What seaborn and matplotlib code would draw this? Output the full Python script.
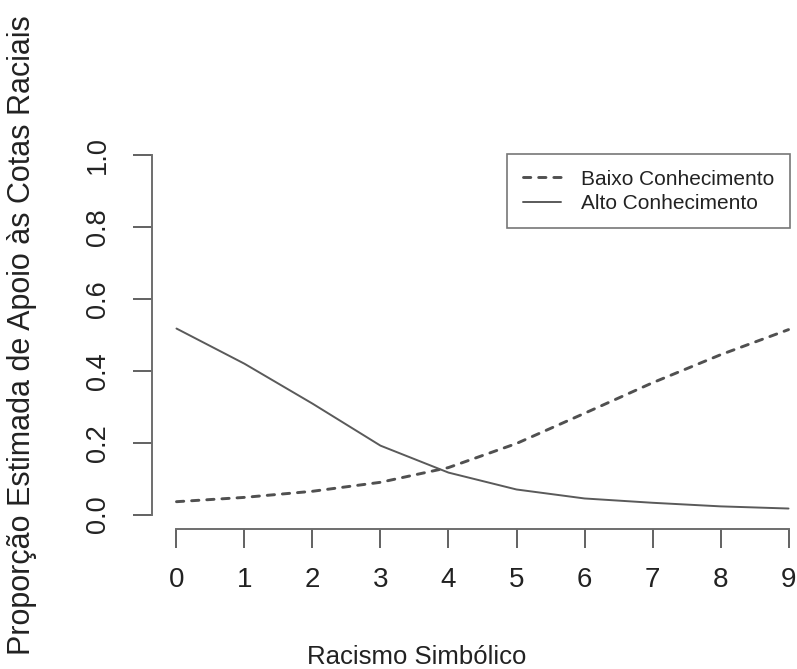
import numpy as np
import pandas as pd
import seaborn as sns
import matplotlib.pyplot as plt

# predicted probabilities
racismo = [0, 1, 2, 3, 4, 5, 6, 7, 8, 9]
baixo_conhecimento = [0.036, 0.048, 0.065, 0.090, 0.131, 0.198, 0.282, 0.367, 0.445, 0.515]
alto_conhecimento = [0.518, 0.420, 0.309, 0.192, 0.117, 0.070, 0.045, 0.033, 0.023, 0.017]
y_ticks = [0.0, 0.2, 0.4, 0.6, 0.8, 1.0]

df = pd.DataFrame({
    'racismo': racismo * 2,
    'prob': baixo_conhecimento + alto_conhecimento,
    'grupo': ['Baixo Conhecimento'] * 10 + ['Alto Conhecimento'] * 10,
})

sns.set_style('white')
plt.rcParams['font.family'] = ['Liberation Sans', 'DejaVu Sans']

fig = plt.figure(figsize=(7.97, 6.69), dpi=100)
ax = fig.add_axes([152 / 797, 1 - 529 / 669, 661 / 797, 388 / 669])

sns.lineplot(data=df[df.grupo == 'Baixo Conhecimento'], x='racismo', y='prob',
             color='#505050', linewidth=2.1, ax=ax, label='Baixo Conhecimento')
sns.lineplot(data=df[df.grupo == 'Alto Conhecimento'], x='racismo', y='prob',
             color='#5a5a5a', linewidth=1.4, ax=ax, label='Alto Conhecimento')
ax.lines[0].set_dashes((2.5, 2.7))
ax.lines[0].set_dash_capstyle('round')

ax.set_xlim(-0.36, 9.36)
ax.set_ylim(-0.04, 1.04)

# R-style axes: only the ranges, ticks outside
for s in ['top', 'right']:
    ax.spines[s].set_visible(False)
ax.spines['left'].set_bounds(0, 1)
ax.spines['bottom'].set_bounds(0, 9)
for s in ['left', 'bottom']:
    ax.spines[s].set_color('#6e6e6e')
    ax.spines[s].set_linewidth(1.4)

ax.set_xticks(racismo)
ax.set_xticklabels([str(v) for v in racismo], fontsize=20)
ax.set_yticks(y_ticks)
ax.set_yticklabels([f'{v:.1f}' for v in y_ticks], fontsize=19.5,
                   rotation=90, va='center')
ax.tick_params(axis='both', direction='out', length=13.5, width=1.3,
               color='#555555', labelcolor='#222222', left=True, bottom=True)
ax.tick_params(axis='x', pad=14)
ax.tick_params(axis='y', pad=16)

ax.set_xlabel('')
ax.set_ylabel('')
fig.text(417 / 797, 1 - 664 / 669, 'Racismo Simbólico', fontsize=18.5,
         ha='center', va='baseline', color='#222222')
fig.text(22 / 797, 1 - 335 / 669, 'Proporção Estimada de Apoio às Cotas Raciais',
         fontsize=22, rotation=90, ha='center', va='center', color='#222222')

leg = ax.legend(loc='upper right', bbox_to_anchor=(790 / 797, 1 - 154 / 669),
                bbox_transform=fig.transFigure, fontsize=15, frameon=True,
                fancybox=False, handlelength=1.85, handletextpad=0.95,
                labelspacing=0.25, borderpad=0.75, borderaxespad=0)
leg.get_frame().set_edgecolor('#555555')
leg.get_frame().set_linewidth(1.2)
for t in leg.get_texts():
    t.set_color('#222222')

fig.savefig('out.png', dpi=100)
